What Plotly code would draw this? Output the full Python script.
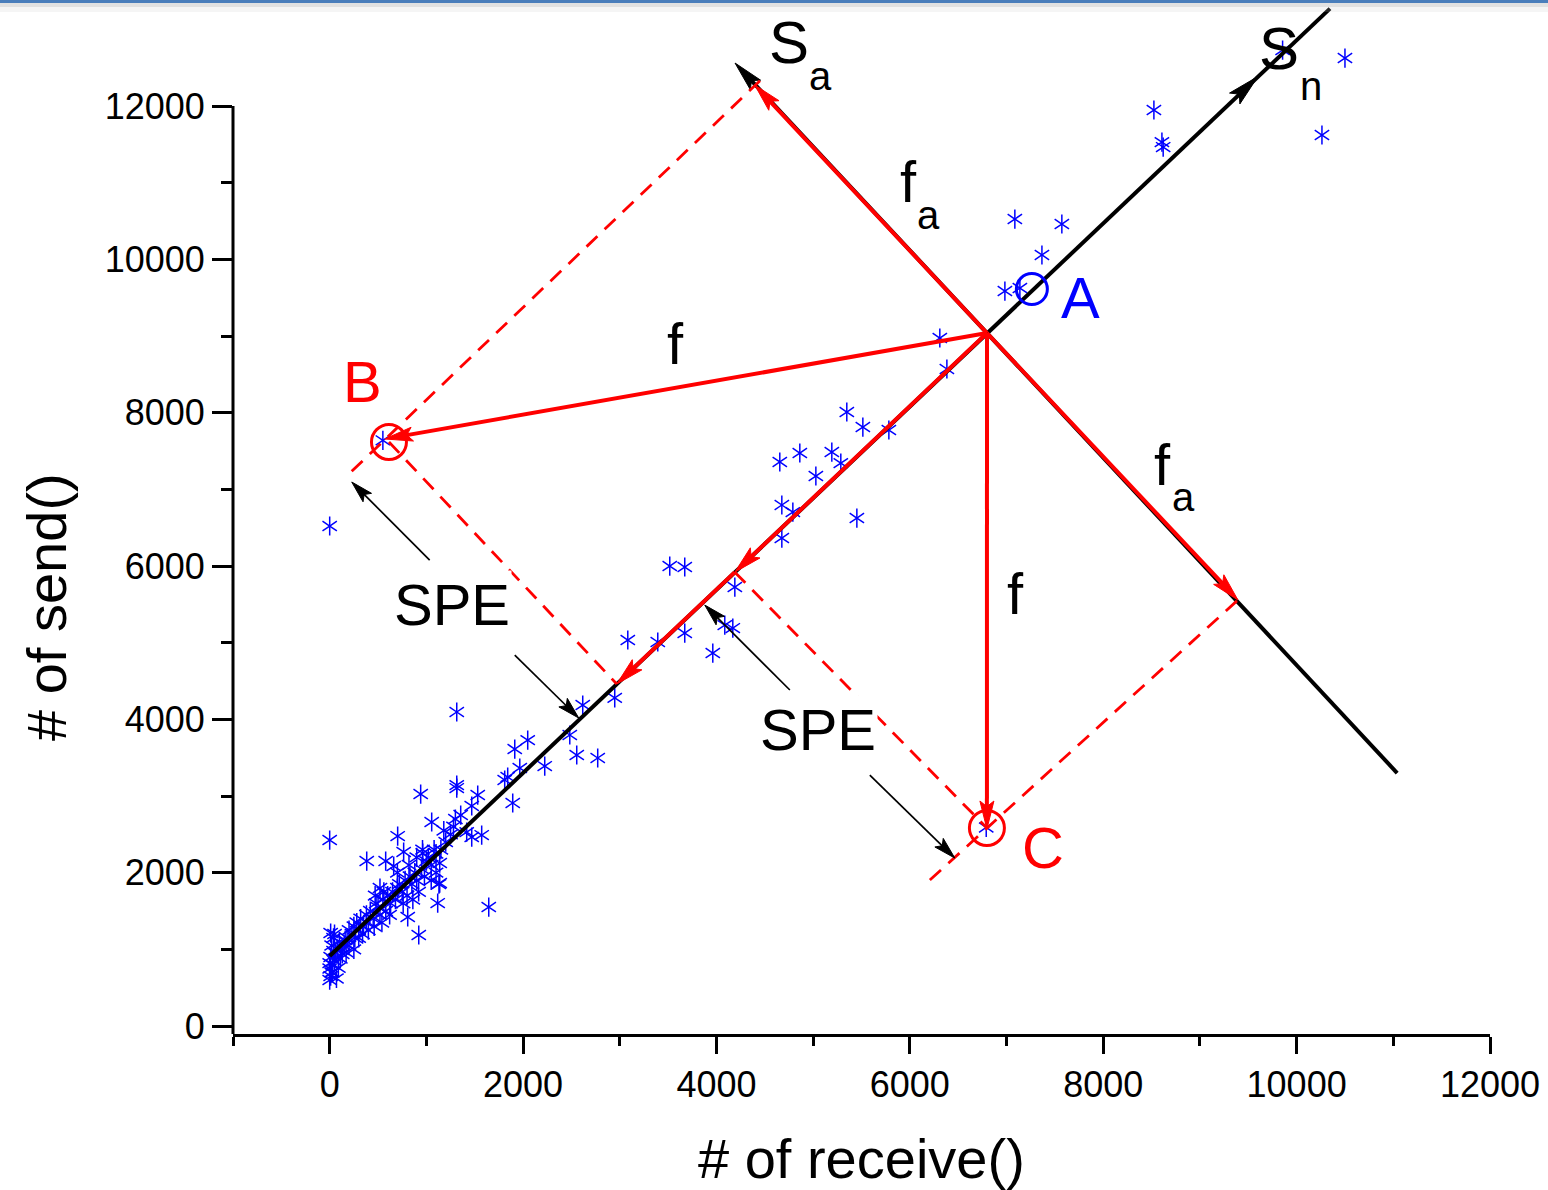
import plotly.graph_objects as go

# ---------------- data: scattered jobs (# of receive(), # of send()) ----------------
recv_outliers = [10500, 9855, 8524, 8607, 8620, 10262,
                 7086, 7572, 7366, 6983, 7138, 6310, 6383,
                 5348, 5514, 5783, 4655, 4862, 5193, 5286, 5028, 4676, 4790, 5452, 4676,
                 3517, 3672, 4190, 4086, 4169, 3083, 3393, 3672, 3962,
                 2948, 2617, 2483, 2555, 2772, 2224, 2048, 1914, 1314,
                 1810, 1841, 1966, 1893, 1531, 1469, 1314, 1314, 941, 1055, 1355, 703, 0,
                 383, 579, 662, 765, 962, 1138, 1138, 1645, 921, 1117, 807, 1572, 1469, 1417,
                 10, 0, 6790, 550]
send_outliers = [12626, 12730, 11948, 11530, 11465, 11622,
                 10526, 10461, 10057, 9587, 9626, 8974, 8570,
                 8009, 7813, 7774, 7357, 7474, 7487, 7343, 7174, 6796, 6704, 6626, 6365,
                 6000, 5987, 5726, 5230, 5191, 5035, 5009, 5126, 4865,
                 4280, 4187, 3796, 3535, 3496, 3391, 3730, 3613, 4096,
                 3209, 3248, 3365, 2909, 3013, 2870, 3143, 3104, 3026, 2661, 2752, 2478, 2426,
                 2152, 2152, 2087, 2270, 2256, 2126, 1865, 1552, 1187, 1604, 1422, 2491, 2465, 2530,
                 1213, 6522, 2590, 7640]

recv_cluster = [0, 10, 20, 0, 30, 50, 10, 60, 80, 20, 40, 100, 120, 150, 30, 70, 90, 110, 130, 160, 50, 0, 40,
                180, 200, 230, 250, 280, 300, 320, 350, 380, 200, 260, 300, 340, 380, 400, 250, 170,
                420, 450, 480, 500, 520, 550, 580, 600, 630, 650, 680, 700, 460, 540, 620, 560, 470, 520,
                720, 750, 780, 800, 830, 850, 880, 900, 950, 980, 1000, 760, 860, 920, 820, 700, 900, 960,
                1020, 1050, 1080, 1100, 1150, 1200, 1050, 1100, 1130, 1250, 1280, 1300, 1180]
send_cluster = [600, 650, 700, 750, 800, 850, 900, 950, 1000, 1050, 1150, 1100, 1000, 1050, 700, 620, 760, 880, 940, 1120, 1200, 820, 980,
                1150, 1250, 1200, 1300, 1350, 1250, 1400, 1300, 1450, 1050, 1150, 1150, 1200, 1350, 1250, 1000, 960,
                1500, 1400, 1600, 1550, 1450, 1650, 1500, 1700, 1600, 1750, 1650, 1800, 1300, 1350, 1450, 1750, 1700, 1800,
                1850, 1750, 1900, 1700, 1950, 1850, 2000, 1900, 2050, 1950, 2150, 1600, 1650, 1750, 2100, 2000, 2200, 2300,
                2200, 2100, 2300, 2250, 2300, 2400, 1900, 2000, 1850, 2500, 2600, 2700, 2550]

recv_all = recv_outliers + recv_cluster
send_all = send_outliers + send_cluster

# ---------------- diagram key points (data units) ----------------
O = (6798, 9039)              # origin of f vectors
SN_START = (0, 913)
SN_END = (10345, 13270)
SN_ARROW_TIP = (9600, 12385)
SA_TIP = (4192, 12561)
SA_END = (11040, 3300)
FA_UP = (4396, 12274)
FA_DOWN = (9393, 5557)
B_PT = (613, 7618)
B_TIP = (569, 7657)
C_PT = (6797, 2583)
C_TIP = (6797, 2570)
A_PT = (7262, 9613)
PROJ_C = (4190, 5920)
PROJ_B = (2969, 4461)
DASH1 = [(4450, 12330), (155, 7148)]
DASH2 = [B_PT, PROJ_B]
DASH3 = [PROJ_C, C_PT]
DASH4 = [(6207, 1904), FA_DOWN]
SPE_ARROWS = [((1034, 6078), (228, 7096)),
              ((1914, 4839), (2576, 4017)),
              ((4759, 4383), (3879, 5491)),
              ((5586, 3274), (6465, 2191))]

x_ticks = [0, 2000, 4000, 6000, 8000, 10000, 12000]
x_minor = [-1000, 1000, 3000, 5000, 7000, 9000, 11000]
y_ticks = [0, 2000, 4000, 6000, 8000, 10000, 12000]
y_minor = [1000, 3000, 5000, 7000, 9000, 11000]

# ---------------- layout geometry ----------------
X_RANGE = [-1000, 12000]
Y_RANGE = [-104, 13383]
W, H = 1548, 1190
MARG = dict(l=233, r=58, t=0, b=156)
PW = W - MARG['l'] - MARG['r']
PH = H - MARG['t'] - MARG['b']
SX = PW / (X_RANGE[1] - X_RANGE[0])
SY = PH / (Y_RANGE[1] - Y_RANGE[0])

FONT = "Liberation Sans, Arial, sans-serif"
RED = "#ff0000"
BLUE = "#0000ff"

fig = go.Figure()

# scatter points as 6-armed asterisks (two overlaid Y symbols)
for sym in ["y-up-open", "y-down-open"]:
    fig.add_trace(go.Scatter(x=recv_all, y=send_all, mode="markers",
                             marker=dict(symbol=sym, size=12, color=BLUE,
                                         line=dict(color=BLUE, width=1.5)),
                             hoverinfo="skip", showlegend=False))


def head_geom(tail, tip, L, Wd, notch=0.8):
    dx = (tip[0] - tail[0]) * SX
    dy = (tip[1] - tail[1]) * SY
    n = (dx * dx + dy * dy) ** 0.5
    ux, uy = dx / n, dy / n
    px, py = -uy, ux

    def d(ox, oy):
        return (tip[0] + ox / SX, tip[1] + oy / SY)

    pl = d(-L * ux + Wd / 2 * px, -L * uy + Wd / 2 * py)
    pn = d(-notch * L * ux, -notch * L * uy)
    pr = d(-L * ux - Wd / 2 * px, -L * uy - Wd / 2 * py)
    shaft = d(-0.7 * L * ux, -0.7 * L * uy)
    xs = [tip[0], pl[0], pn[0], pr[0], tip[0]]
    ys = [tip[1], pl[1], pn[1], pr[1], tip[1]]
    return xs, ys, shaft


def line(p0, p1, color, width, dash=None):
    fig.add_trace(go.Scatter(x=[p0[0], p1[0]], y=[p0[1], p1[1]], mode="lines",
                             line=dict(color=color, width=width, dash=dash),
                             hoverinfo="skip", showlegend=False))


def arrow(tail, tip, color, width, L, Wd, draw_shaft=True):
    xs, ys, shaft = head_geom(tail, tip, L, Wd)
    if draw_shaft:
        line(tail, shaft, color, width)
    fig.add_trace(go.Scatter(x=xs, y=ys, mode="lines", fill="toself",
                             fillcolor=color, line=dict(color=color, width=1),
                             hoverinfo="skip", showlegend=False))


# black principal axes
line(SN_START, SN_END, "black", 4)
line(SA_END, O, "black", 4)
arrow(O, SA_TIP, "black", 4, 30, 14)
arrow(O, SN_ARROW_TIP, "black", 4, 32, 15, draw_shaft=False)

# red dashed construction lines
for seg in [DASH1, DASH2, DASH3, DASH4]:
    line(seg[0], seg[1], RED, 2.8, dash="15px,10px")

# red vectors
arrow(O, FA_UP, RED, 4, 28, 14)
arrow(O, FA_DOWN, RED, 4, 28, 14)
arrow(O, B_TIP, RED, 4, 28, 14)
arrow(O, C_TIP, RED, 4, 28, 14)
arrow(O, PROJ_C, RED, 4, 28, 14)
arrow(PROJ_C, PROJ_B, RED, 4, 28, 14)

# SPE indicator arrows
for tail, tip in SPE_ARROWS:
    arrow(tail, tip, "black", 1.7, 22, 12)

# circles A, B, C
fig.add_trace(go.Scatter(x=[A_PT[0]], y=[A_PT[1]], mode="markers",
                         marker=dict(symbol="circle-open", size=31, color=BLUE, line=dict(width=3, color=BLUE)),
                         hoverinfo="skip", showlegend=False))
fig.add_trace(go.Scatter(x=[B_PT[0], C_PT[0]], y=[B_PT[1], C_PT[1]], mode="markers",
                         marker=dict(symbol="circle-open", size=35, color=RED, line=dict(width=3, color=RED)),
                         hoverinfo="skip", showlegend=False))


def px2x(px):
    return X_RANGE[0] + (px - MARG['l']) / SX


def py2y(py):
    return Y_RANGE[0] + (MARG['t'] + PH - py) / SY


# text labels: (text, centre px x, centre px y, colour, size)
labels = [
    ("S", 789, 42, "black", 60), ("a", 820, 76, "black", 40),
    ("S", 1279, 48, "black", 60), ("n", 1311, 86, "black", 40),
    ("f", 908, 181, "black", 58), ("a", 928, 215, "black", 40),
    ("f", 1162, 464, "black", 58), ("a", 1183, 497, "black", 40),
    ("f", 675, 343, "black", 58),
    ("f", 1015, 593, "black", 58),
    ("B", 362, 381, RED, 58),
    ("A", 1080, 297, BLUE, 58),
    ("C", 1043, 847, RED, 58),
]
for txt, cx, cy, col, sz in labels:
    fig.add_annotation(x=px2x(cx), y=py2y(cy), xref="x", yref="y", text=txt, showarrow=False,
                       xanchor="center", yanchor="middle", borderpad=0,
                       font=dict(family=FONT, size=sz, color=col))
for cx, cy in [(452, 604), (818, 729)]:
    fig.add_annotation(x=px2x(cx), y=py2y(cy), xref="x", yref="y", text="SPE", showarrow=False,
                       xanchor="center", yanchor="middle", bgcolor="white",
                       font=dict(family=FONT, size=58, color="black"))

# axis titles
fig.add_annotation(x=(861 - MARG['l']) / PW, y=(PH - 1158) / PH, xref="paper", yref="paper",
                   text="# of receive()", showarrow=False, xanchor="center", yanchor="middle",
                   font=dict(family=FONT, size=56, color="black"))
fig.add_annotation(x=(46 - MARG['l']) / PW, y=(PH - 607) / PH, xref="paper", yref="paper",
                   text="# of send()", showarrow=False, textangle=-90, xanchor="center", yanchor="middle",
                   font=dict(family=FONT, size=56, color="black"))

# y axis line (stops at the top tick) and window-top border
shapes = [
    dict(type="line", xref="paper", yref="y", x0=0, x1=0, y0=Y_RANGE[0], y1=y_ticks[-1],
         line=dict(color="black", width=3)),
    dict(type="rect", xref="paper", yref="paper", x0=-0.3, x1=1.1, y0=1 - 3 / PH, y1=1.0,
         fillcolor="#4a7ebb", line=dict(width=0)),
    dict(type="rect", xref="paper", yref="paper", x0=-0.3, x1=1.1, y0=1 - 7 / PH, y1=1 - 3 / PH,
         fillcolor="rgba(170,170,170,0.35)", line=dict(width=0)),
    dict(type="rect", xref="paper", yref="paper", x0=-0.3, x1=1.1, y0=1 - 12 / PH, y1=1 - 7 / PH,
         fillcolor="rgba(200,200,200,0.18)", line=dict(width=0)),
]

fig.update_layout(
    width=W, height=H, margin=dict(MARG, autoexpand=False),
    paper_bgcolor="white", plot_bgcolor="white",
    showlegend=False, shapes=shapes,
    font=dict(family=FONT, color="black"),
    xaxis=dict(range=X_RANGE, showline=True, linewidth=3, linecolor="black",
               showgrid=False, zeroline=False, ticks="outside", tickmode="array",
               tickvals=x_ticks, ticktext=[str(v) for v in x_ticks],
               ticklen=17, tickwidth=3, tickcolor="black",
               tickfont=dict(family=FONT, size=36, color="black"), ticklabelstandoff=0,
               minor=dict(tickmode="array", tickvals=x_minor, ticks="outside", ticklen=9,
                          tickwidth=3, tickcolor="black", showgrid=False)),
    yaxis=dict(range=Y_RANGE, showline=False, showgrid=False, zeroline=False,
               ticks="outside", tickmode="array", tickvals=y_ticks,
               ticktext=[str(v) for v in y_ticks],
               ticklen=20, tickwidth=3, tickcolor="black",
               tickfont=dict(family=FONT, size=36, color="black"), ticklabelstandoff=0,
               minor=dict(tickmode="array", tickvals=y_minor, ticks="outside", ticklen=11,
                          tickwidth=3, tickcolor="black", showgrid=False)),
)

fig.write_html("out.html", config={"displayModeBar": False},
               post_script="document.body.style.margin='0px';")
